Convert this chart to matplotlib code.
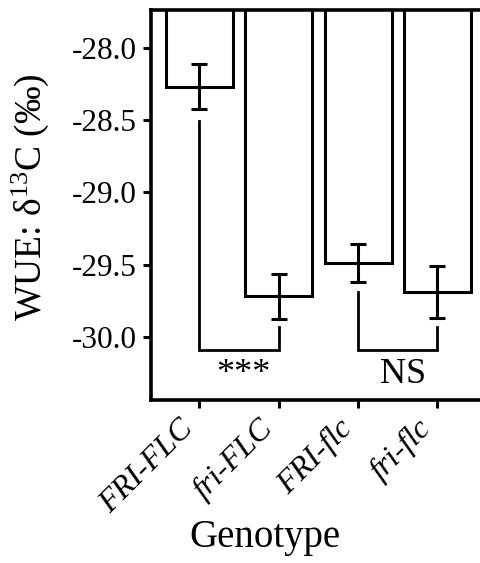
import matplotlib
matplotlib.use("Agg")
import matplotlib.pyplot as plt

genotypes = ["FRI-FLC", "fri-FLC", "FRI-flc", "fri-flc"]
wue = [-28.27, -29.72, -29.49, -29.69]
err = [0.155, 0.157, 0.13, 0.18]
# significance brackets: (left idx, right idx, left start y, right start y, base y, label)
brackets = [(0, 1, -28.51, -29.93, -30.09, "***"), (2, 3, -29.69, -29.93, -30.09, "NS")]
yticks = [-28.0, -28.5, -29.0, -29.5, -30.0]

plt.rcParams["font.family"] = ["Liberation Serif", "DejaVu Serif"]
plt.rcParams["mathtext.fontset"] = "custom"
plt.rcParams["mathtext.rm"] = "Liberation Serif"
plt.rcParams["mathtext.it"] = "Liberation Serif:italic"

W, H = 480, 563
fig = plt.figure(figsize=(W / 100, H / 100), dpi=100)
ax = fig.add_axes([151 / W, 163 / H, 1.05 - 151 / W, 390 / H])

x = list(range(len(genotypes)))
ax.bar(x, wue, width=0.845, color="white", edgecolor="black", linewidth=2.2, zorder=2)
ax.errorbar(x, wue, yerr=err, fmt="none", ecolor="black", elinewidth=2.2,
            capsize=5.5, capthick=2.2, zorder=3)

for l, r, ly, ry, by, lab in brackets:
    ax.plot([l, l, r, r], [ly, by, by, ry], color="black", lw=2.0, zorder=3,
            solid_joinstyle="miter")
    xc = (l + r) / 2 + (0.05 if lab == "***" else 0.07)
    ax.text(xc, -30.318, lab, ha="center", va="baseline", fontsize=26)

ax.set_ylim(-30.436, -27.74)
ax.set_xlim(-0.61, 3.84)
ax.set_yticks(yticks)
ax.set_yticklabels([f"{v:.1f}" for v in yticks], fontsize=22.5)
ax.set_xticks(x)
ax.set_xticklabels(genotypes, rotation=45, ha="right", va="top",
                   fontsize=23, style="italic")
ax.tick_params(axis="both", direction="out", length=6, width=2.2, pad=4)
for s in ax.spines.values():
    s.set_linewidth(2.6)

fig.text(30 / W, 1 - 197 / H, r"WUE: δ$\mathrm{^{13}}$C (‰)", fontsize=27, rotation=90,
         ha="center", va="center")
fig.text(265 / W, 1 - 547 / H, "Genotype", fontsize=28, ha="center", va="baseline")

fig.savefig("out.png", dpi=100)
